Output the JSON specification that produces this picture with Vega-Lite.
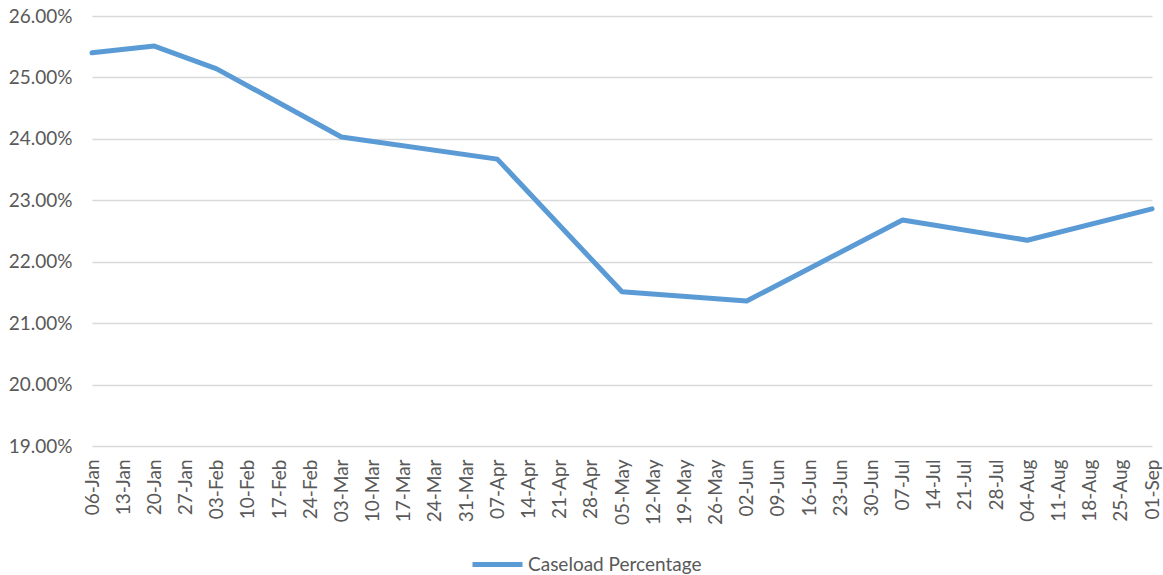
{
  "$schema": "https://vega.github.io/schema/vega-lite/v6.json",
  "width": 1060,
  "height": 430,
  "autosize": {"type": "none"},
  "padding": {"left": 92, "top": 16, "right": 11, "bottom": 129},
  "background": "white",
  "config": {
    "view": {"stroke": null},
    "font": "Lato",
    "axis": {"labelFont": "Lato", "labelColor": "#595959", "labelFontSize": 19, "ticks": false, "domain": false, "title": null, "gridColor": "#D9D9D9", "gridWidth": 1.3}
  },
  "data": {
    "values": [
      {"week": "06-Jan", "pct": 0.2540, "series": "Caseload Percentage"},
      {"week": "20-Jan", "pct": 0.2551, "series": "Caseload Percentage"},
      {"week": "03-Feb", "pct": 0.2514, "series": "Caseload Percentage"},
      {"week": "03-Mar", "pct": 0.2403, "series": "Caseload Percentage"},
      {"week": "07-Apr", "pct": 0.2367, "series": "Caseload Percentage"},
      {"week": "05-May", "pct": 0.2151, "series": "Caseload Percentage"},
      {"week": "02-Jun", "pct": 0.2136, "series": "Caseload Percentage"},
      {"week": "07-Jul", "pct": 0.2268, "series": "Caseload Percentage"},
      {"week": "04-Aug", "pct": 0.2235, "series": "Caseload Percentage"},
      {"week": "01-Sep", "pct": 0.2286, "series": "Caseload Percentage"}
    ]
  },
  "mark": {"type": "line", "strokeWidth": 5, "strokeJoin": "round", "strokeCap": "round"},
  "encoding": {
    "x": {
      "field": "week",
      "type": "ordinal",
      "sort": null,
      "scale": {
        "type": "point",
        "padding": 0,
        "domain": ["06-Jan","13-Jan","20-Jan","27-Jan","03-Feb","10-Feb","17-Feb","24-Feb","03-Mar","10-Mar","17-Mar","24-Mar","31-Mar","07-Apr","14-Apr","21-Apr","28-Apr","05-May","12-May","19-May","26-May","02-Jun","09-Jun","16-Jun","23-Jun","30-Jun","07-Jul","14-Jul","21-Jul","28-Jul","04-Aug","11-Aug","18-Aug","25-Aug","01-Sep"]
      },
      "axis": {"labelAngle": -90, "labelPadding": 13, "grid": false, "labelAlign": "right", "labelBaseline": "middle"}
    },
    "y": {
      "field": "pct",
      "type": "quantitative",
      "scale": {"domain": [0.19, 0.26], "nice": false, "zero": false},
      "axis": {"format": ".2%", "values": [0.19, 0.20, 0.21, 0.22, 0.23, 0.24, 0.25, 0.26], "labelPadding": 20, "grid": true}
    },
    "color": {
      "field": "series",
      "type": "nominal",
      "scale": {"range": ["#5B9BD5"]},
      "legend": {
        "title": null,
        "orient": "none",
        "legendX": 378,
        "legendY": 521,
        "symbolType": "stroke",
        "symbolSize": 2500,
        "symbolStrokeWidth": 5,
        "labelFont": "Lato",
        "labelFontSize": 19,
        "labelColor": "#595959",
        "labelOffset": 3,
        "labelLimit": 0
      }
    }
  }
}
